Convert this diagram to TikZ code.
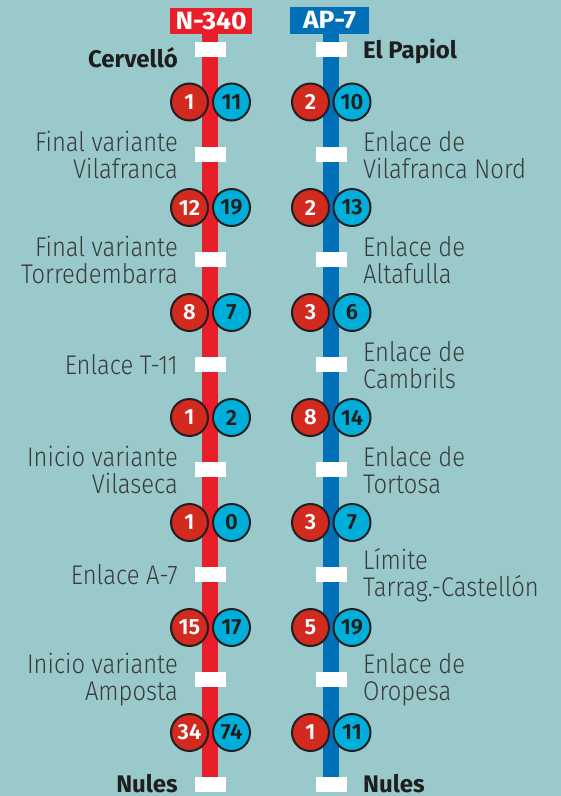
\documentclass[tikz,border=0pt]{standalone}
\usepackage{fontspec}
\setmainfont{Fira Sans}
\IfFontExistsTF{Fira Sans Light}
  {\newfontfamily\lblfont{Fira Sans Light}[FakeStretch=0.88]}
  {\newfontfamily\lblfont{Fira Sans}[FakeStretch=0.88]}
\IfFontExistsTF{Fira Sans SemiBold}
  {\newfontfamily\numfont{Fira Sans SemiBold}}
  {\newfontfamily\numfont{Fira Sans}}
\newfontfamily\hdrfont{Fira Sans}[FakeStretch=1.06]
\newfontfamily\endfont{Fira Sans}

\definecolor{bgteal}{HTML}{99C9CA}
\definecolor{roadred}{HTML}{E81E2A}
\definecolor{numred}{HTML}{D32A1F}
\definecolor{roadblue}{HTML}{0070B9}
\definecolor{numcyan}{HTML}{00AEDA}
\definecolor{ringdark}{HTML}{231F20}
\definecolor{txtgray}{HTML}{3A3A3A}
\definecolor{txtdark}{HTML}{1E1E1E}

\tikzset{
  road/.style={line width=16pt},
  roadtick/.style={fill=white, minimum width=31pt, minimum height=15pt, inner sep=0pt},
  header/.style={text=white, inner sep=0pt, font=\hdrfont\bfseries\fontsize{25}{25}\selectfont},
  redcount/.style={circle, draw=ringdark, line width=2pt, fill=numred, text=white,
    minimum size=37pt, inner sep=0pt, font=\numfont\fontsize{22}{22}\selectfont},
  cyancount/.style={redcount, fill=numcyan, text=txtdark},
  leftlbl/.style={anchor=east, align=right, inner sep=0pt, text=txtgray,
    font=\lblfont\fontsize{27}{27}\selectfont},
  rightlbl/.style={leftlbl, anchor=west, align=left},
  endlbl/.style={inner sep=0pt, text=txtdark, font=\endfont\bfseries\fontsize{24}{24}\selectfont}
}

\begin{document}
\begin{tikzpicture}[x=1pt,y=-1pt]
                % background
                \fill [bgteal] (0,0) rectangle (561,796);%
                
                % Drawing header boxes
                \node [header, fill=roadred, minimum width=82pt, minimum height=26.5pt] (hdrN) at (211,20.8) {N-340};%
                \node [header, fill=roadblue, minimum width=79pt, minimum height=27pt] (hdrAP) at (329.5,20.5) {AP-7};%
                
                % Drawing road N-340
                \coordinate (endN) at (210,785);%
                \draw [road, roadred] (hdrN.south -| endN) -- (endN);%
                
                % Drawing road AP-7
                \coordinate (endAP) at (331,785);%
                \draw [road, roadblue] (hdrAP.south -| endAP) -- (endAP);%
                
                % Marking stops on N-340
                \node [roadtick] (tN0) at (210.5,49.5) {};%
                \node [roadtick] (tN1) at (210.5,154.5) {};%
                \node [roadtick] (tN2) at (210.5,259.5) {};%
                \node [roadtick] (tN3) at (210.5,364.5) {};%
                \node [roadtick] (tN4) at (210.5,469.5) {};%
                \node [roadtick] (tN5) at (210.5,574.5) {};%
                \node [roadtick] (tN6) at (210.5,679.5) {};%
                \node [roadtick] (tN7) at (210.5,784.5) {};%
                
                % Marking stops on AP-7
                \node [roadtick] (tAP0) at (331,49.5) {};%
                \node [roadtick] (tAP1) at (331,154.5) {};%
                \node [roadtick] (tAP2) at (331,259.5) {};%
                \node [roadtick] (tAP3) at (331,364.5) {};%
                \node [roadtick] (tAP4) at (331,469.5) {};%
                \node [roadtick] (tAP5) at (331,574.5) {};%
                \node [roadtick] (tAP6) at (331,679.5) {};%
                \node [roadtick] (tAP7) at (331,784.5) {};%
                
                % Labels N-340
                \node [endlbl, anchor=base east] (lN0) at (178,67.5) {Cervelló};%
                \node [leftlbl] (lN1) at (178,155) {Final variante\\Vilafranca};%
                \node [leftlbl] (lN2) at (178,260) {Final variante\\Torredembarra};%
                \node [leftlbl] (lN3) at (178,365) {Enlace T-11};%
                \node [leftlbl] (lN4) at (178,470) {Inicio variante\\Vilaseca};%
                \node [leftlbl] (lN5) at (178,575) {Enlace A-7};%
                \node [leftlbl] (lN6) at (178,680) {Inicio variante\\Amposta};%
                \node [endlbl, anchor=base east] (lN7) at (178,792) {Nules};%
                
                % Labels AP-7
                \node [endlbl, anchor=base west] (lAP0) at (363,58) {El Papiol};%
                \node [rightlbl] (lAP1) at (363,155) {Enlace de\\Vilafranca Nord};%
                \node [rightlbl] (lAP2) at (363,260) {Enlace de\\Altafulla};%
                \node [rightlbl] (lAP3) at (363,365) {Enlace de\\Cambrils};%
                \node [rightlbl] (lAP4) at (363,470) {Enlace de\\Tortosa};%
                \node [rightlbl] (lAP5) at (363,575) {Límite\\Tarrag.-Castellón};%
                \node [rightlbl] (lAP6) at (363,680) {Enlace de\\Oropesa};%
                \node [endlbl, anchor=base west] (lAP7) at (363,792) {Nules};%
                
                % Counts N-340
                \node [redcount] (rN0) at (189.5,102) {1};%
                \node [cyancount] (cN0) at (231.5,102) {11};%
                \node [redcount] (rN1) at (189.5,207.5) {12};%
                \node [cyancount] (cN1) at (231.5,207.5) {19};%
                \node [redcount] (rN2) at (189.5,312.5) {8};%
                \node [cyancount] (cN2) at (231.5,312.5) {7};%
                \node [redcount] (rN3) at (189.5,417.5) {1};%
                \node [cyancount] (cN3) at (231.5,417.5) {2};%
                \node [redcount] (rN4) at (189.5,522.5) {1};%
                \node [cyancount] (cN4) at (231.5,522.5) {0};%
                \node [redcount] (rN5) at (189.5,627.5) {15};%
                \node [cyancount] (cN5) at (231.5,627.5) {17};%
                \node [redcount] (rN6) at (189.5,732.5) {34};%
                \node [cyancount] (cN6) at (231.5,732.5) {74};%
                
                % Counts AP-7
                \node [redcount] (rAP0) at (310.5,102) {2};%
                \node [cyancount] (cAP0) at (352,102) {10};%
                \node [redcount] (rAP1) at (310.5,207.5) {2};%
                \node [cyancount] (cAP1) at (352,207.5) {13};%
                \node [redcount] (rAP2) at (310.5,312.5) {3};%
                \node [cyancount] (cAP2) at (352,312.5) {6};%
                \node [redcount] (rAP3) at (310.5,417.5) {8};%
                \node [cyancount] (cAP3) at (352,417.5) {14};%
                \node [redcount] (rAP4) at (310.5,522.5) {3};%
                \node [cyancount] (cAP4) at (352,522.5) {7};%
                \node [redcount] (rAP5) at (310.5,627.5) {5};%
                \node [cyancount] (cAP5) at (352,627.5) {19};%
                \node [redcount] (rAP6) at (310.5,732.5) {1};%
                \node [cyancount] (cAP6) at (352,732.5) {11};%
            \end{tikzpicture}
\end{document}
